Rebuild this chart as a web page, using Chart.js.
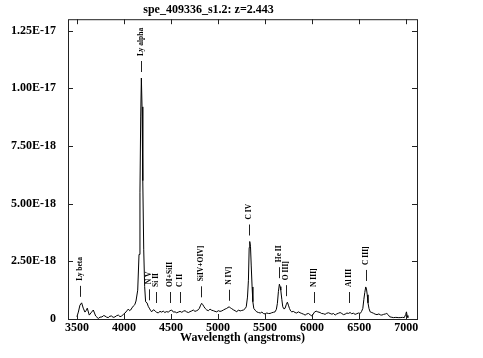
<!DOCTYPE html>
<html>
<head>
<meta charset="UTF-8">
<title>spe_409336_s1.2</title>
<script src="https://cdn.jsdelivr.net/npm/chart.js@4.4.0/dist/chart.umd.min.js"></script>
<style>
*{margin:0;padding:0;}
body{background:#fff;}
#box{width:483px;height:358px;}
</style>
</head>
<body>
<div id="box"><canvas id="spec" width="483" height="358"></canvas></div>
<script>
var redshift = 2.443;

var waves = [3500,3515,3532,3550,3567,3585,3600,3610,3631,3656,3674,3699,3727,3745,3766,3785,3798,3815,3833,3850,
	3869,3885,3904,3920,3940,3958,3975,3994,4011,4030,4046,4060,4071,4085,4099,4115,4128,4146,4160,4170,
	4178,4185,4192,4200,4210,4220,4230,4245,4258,4269,4282,4294,4312,4330,4348,4365,4383,4400,4418,4435,
	4450,4471,4490,4507,4525,4543,4560,4578,4596,4615,4632,4649,4666,4685,4702,4720,4737,4755,4773,4790,
	4801,4815,4826,4838,4851,4865,4880,4898,4915,4932,4950,4968,4986,5003,5021,5040,5057,5075,5092,5106,
	5120,5133,5145,5162,5181,5199,5216,5235,5252,5270,5288,5300,5313,5323,5331,5337,5345,5353,5362,5370,
	5380,5395,5411,5430,5450,5466,5482,5500,5518,5535,5553,5570,5588,5606,5620,5631,5642,5652,5660,5667,
	5678,5688,5700,5712,5725,5737,5748,5759,5772,5784,5800,5819,5836,5854,5872,5890,5908,5926,5944,5961,
	5980,5997,6010,6025,6043,6060,6085,6100,6120,6138,6155,6175,6191,6210,6228,6245,6262,6280,6298,6315,
	6333,6351,6370,6385,6404,6420,6440,6457,6475,6493,6511,6525,6539,6550,6560,6570,6578,6586,6594,6605,
	6617,6635,6652,6670,6690,6710,6725,6741,6760,6780,6794,6810,6823,6840,6865,6890,6915,6936,6960,6980,
	6995,7003,7010,7018];
var flux = [0.10,0.30,0.60,0.70,0.47,0.30,0.38,0.47,0.17,0.30,0.39,0.13,0.02,0.08,0.09,0.15,0.13,0.08,0.06,0.12,
	0.13,0.07,0.09,0.14,0.17,0.10,0.13,0.20,0.26,0.35,0.43,0.36,0.39,0.48,0.56,0.62,0.78,1.25,2.8,5.5,
	8.8,10.45,9.2,6.0,3.0,1.4,0.75,0.70,0.55,0.47,0.38,0.31,0.40,0.36,0.28,0.27,0.33,0.30,0.34,0.28,
	0.32,0.30,0.36,0.39,0.30,0.31,0.27,0.30,0.33,0.29,0.34,0.36,0.31,0.28,0.32,0.35,0.39,0.33,0.36,0.40,
	0.46,0.60,0.68,0.62,0.53,0.45,0.39,0.36,0.43,0.38,0.36,0.33,0.31,0.36,0.33,0.35,0.39,0.43,0.46,0.50,
	0.53,0.47,0.45,0.40,0.36,0.31,0.39,0.35,0.37,0.39,0.45,0.53,0.95,1.68,3.1,3.36,3.15,2.3,1.39,0.75,
	0.46,0.38,0.31,0.28,0.26,0.30,0.24,0.22,0.26,0.24,0.24,0.27,0.29,0.31,0.42,0.68,1.2,1.51,1.40,1.25,
	0.85,0.53,0.44,0.46,0.62,0.73,0.60,0.46,0.35,0.31,0.33,0.28,0.26,0.31,0.27,0.24,0.21,0.17,0.22,0.24,
	0.18,0.13,0.20,0.30,0.34,0.31,0.28,0.24,0.23,0.20,0.25,0.27,0.24,0.21,0.24,0.17,0.22,0.25,0.28,0.24,
	0.19,0.21,0.26,0.24,0.28,0.23,0.25,0.20,0.23,0.26,0.24,0.32,0.46,0.85,1.15,1.39,1.30,1.05,0.70,0.45,
	0.31,0.28,0.25,0.21,0.19,0.22,0.18,0.17,0.20,0.22,0.24,0.18,0.10,0.08,0.06,0.07,0.06,0.06,0.07,0.06,
	0.20,0.31,0.15,0.06];

var xTicks = [3500,4000,4500,5000,5500,6000,6500,7000];
var yTicks = [0,2.5,5,7.5,10,12.5];
var yTickLabels = ["0","2.50E-18","5.00E-18","7.50E-18","1.00E-17","1.25E-17"];

// emission lines: name and rest wavelength
var lineNames = ["Ly beta","Ly alpha","N V","Si II","OI+SiII","C II","SiIV+OIV]","N IV]","C IV","He II","O III]","N III]","Al III","C III]"];
var lineRest = [1025.7,1215.67,1240.1,1260.4,1304.5,1335.0,1400.0,1486.0,1549.0,1640.4,1663.0,1750.0,1857.0,1909.0];

var fontFam = "'Liberation Serif','Times New Roman',serif";

var points = waves.map(function(w,i){ return {x:w, y:flux[i]}; });

// box round the plot with inward ticks, plus the line ids
var framePlugin = {
	id:'frame',
	afterDatasetsDraw:function(chart){
		var c = chart.ctx, a = chart.chartArea;
		var xs = chart.scales.x, ys = chart.scales.y;
		c.save();
		c.strokeStyle = '#222';
		c.lineWidth = 1;
		c.strokeRect(a.left+0.5, a.top+0.5, a.right-a.left, a.bottom-a.top);
		c.beginPath();
		xTicks.forEach(function(v){
			var px = Math.round(xs.getPixelForValue(v))+0.5;
			c.moveTo(px,a.bottom); c.lineTo(px,a.bottom-5);
			c.moveTo(px,a.top); c.lineTo(px,a.top+5);
		});
		yTicks.forEach(function(v){
			var py = Math.round(ys.getPixelForValue(v))+0.5;
			c.moveTo(a.left,py); c.lineTo(a.left+5,py);
			c.moveTo(a.right,py); c.lineTo(a.right-5,py);
		});
		c.stroke();

		c.fillStyle = '#000';
		c.font = "bold 7.5px " + fontFam;
		c.textAlign = 'left';
		c.textBaseline = 'middle';
		lineNames.forEach(function(name,i){
			var obs = lineRest[i]*(1+redshift);
			var top = 0;
			for(var k=0;k<waves.length;k++){
				if(Math.abs(waves[k]-obs)<=20 && flux[k]>top) top = flux[k];
			}
			var px = Math.round(xs.getPixelForValue(obs))+0.5;
			var y0 = Math.min(ys.getPixelForValue(top)-6, a.bottom-16);
			var y1 = y0-11;
			c.beginPath();
			c.moveTo(px,y0); c.lineTo(px,y1);
			c.stroke();
			c.save();
			c.translate(px, y1-5);
			c.rotate(-Math.PI/2);
			c.fillText(name,0,0);
			c.restore();
		});
		c.restore();
	}
};

var ctx = document.getElementById("spec").getContext('2d');
var chart = new Chart(ctx, {
	type:'line',
	data:{
		datasets:[{
			data:points,
			borderColor:'#000',
			borderWidth:1,
			pointRadius:0,
			tension:0,
			fill:false
		}]
	},
	options:{
		responsive:false,
		animation:false,
		devicePixelRatio:1,
		layout:{padding:{left:0,right:66,top:0,bottom:0}},
		plugins:{
			legend:{display:false},
			tooltip:{enabled:false},
			title:{
				display:true,
				text:'spe_409336_s1.2: z=2.443',
				color:'#000',
				font:{family:fontFam,size:12,weight:'bold',lineHeight:1.2},
				padding:{top:1,bottom:1.6}
			}
		},
		scales:{
			x:{
				type:'linear',
				min:3405,
				max:7115,
				grid:{display:false,drawTicks:false},
				border:{display:false},
				afterBuildTicks:function(s){ s.ticks = xTicks.map(function(v){ return {value:v}; }); },
				afterFit:function(s){ s.height = 39; },
				ticks:{
					color:'#000',
					padding:2,
					maxRotation:0,
					autoSkip:false,
					font:{family:fontFam,size:12,weight:'bold'},
					callback:function(v){ return String(v); }
				},
				title:{
					display:true,
					text:'Wavelength (angstroms)',
					color:'#000',
					font:{family:fontFam,size:12,weight:'bold',lineHeight:1.2},
					padding:{top:0,bottom:12.8}
				}
			},
			y:{
				type:'linear',
				min:0,
				max:13,
				grid:{display:false,drawTicks:false},
				border:{display:false},
				afterBuildTicks:function(s){ s.ticks = yTicks.map(function(v){ return {value:v}; }); },
				afterFit:function(s){ s.width = 68; },
				ticks:{
					color:'#000',
					padding:12,
					autoSkip:false,
					font:{family:fontFam,size:12,weight:'bold'},
					callback:function(v){ return yTickLabels[yTicks.indexOf(v)]; }
				}
			}
		}
	},
	plugins:[framePlugin]
});
</script>
</body>
</html>
